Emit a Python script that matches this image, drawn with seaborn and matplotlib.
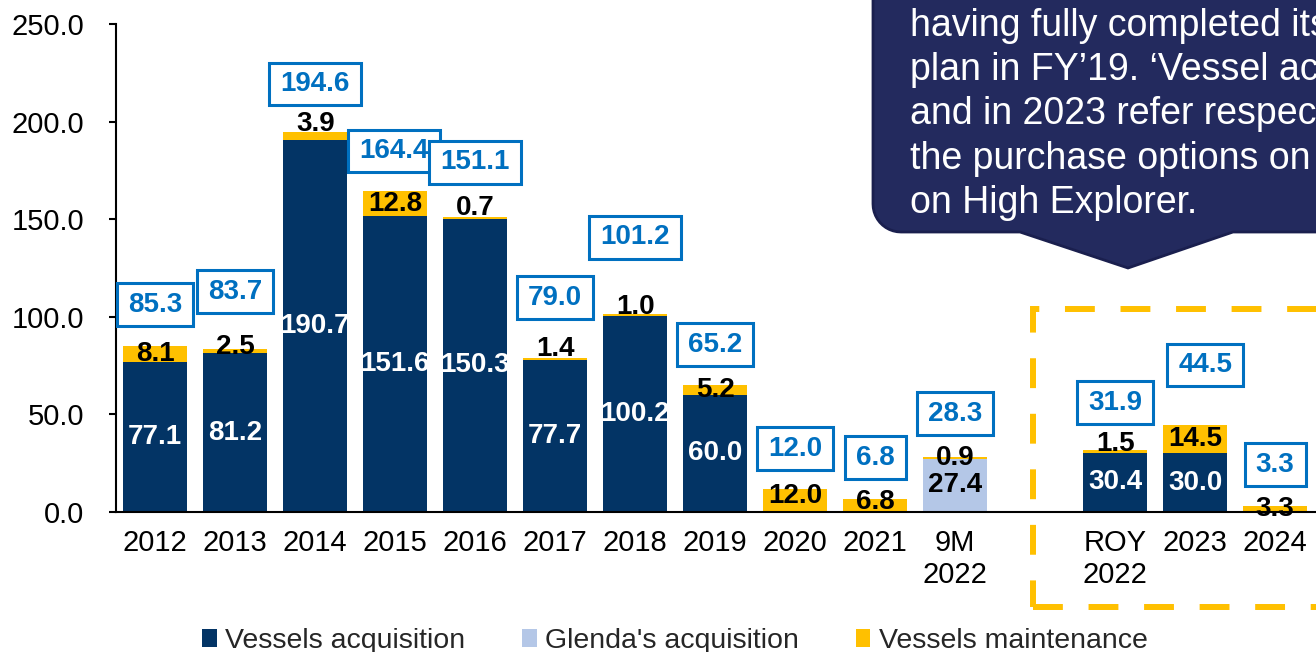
import numpy as np
import pandas as pd
import matplotlib
matplotlib.use("Agg")
import matplotlib.pyplot as plt
import seaborn as sns
from matplotlib.path import Path
from matplotlib.patches import PathPatch, Rectangle, Patch

# ---------------- data ----------------
categories = ["2012", "2013", "2014", "2015", "2016", "2017", "2018", "2019",
              "2020", "2021", "9M\n2022", "ROY\n2022", "2023", "2024"]
vessels_acq = [77.1, 81.2, 190.7, 151.6, 150.3, 77.7, 100.2, 60.0,
               0.0, 0.0, 0.0, 30.4, 30.0, 0.0]
glenda_acq = [0, 0, 0, 0, 0, 0, 0, 0, 0, 0, 27.4, 0, 0, 0]
vessels_maint = [8.1, 2.5, 3.9, 12.8, 0.7, 1.4, 1.0, 5.2,
                 12.0, 6.8, 0.9, 1.5, 14.5, 3.3]
totals = [85.3, 83.7, 194.6, 164.4, 151.1, 79.0, 101.2, 65.2,
          12.0, 6.8, 28.3, 31.9, 44.5, 3.3]
y_ticks = [0, 50, 100, 150, 200, 250]
legend_labels = ["Vessels acquisition", "Glenda's acquisition", "Vessels maintenance"]
callout_lines = ["having fully completed its",
                 "plan in FY\u201919. \u2018Vessel ac",
                 "and in 2023 refer respect",
                 "the purchase options on",
                 "on High Explorer."]

# ---------------- layout / style ----------------
W, H = 1316, 652
NAVY = "#033465"
LIGHT = "#B4C7E7"
YELLOW = "#FFC000"
BLUE = "#0070C0"
CALLOUT = "#232A5E"
CALLOUT_EDGE = "#1A1F4E"

# label offsets (pixels) for the maintenance labels and the total boxes
maint_dy = [0, 4, 12, 0, 10, 10, 8, 0, 4, 3, 0, 7, 0, 0]
box_dy = [41, 57, 48, 40, 55, 60, 77, 40, 40, 41, 43, 47, 60, 41]
box_dx = [0, 0, 0, -1, 0, 0, 0, 0, 0, 0, 0, 0, 10, 0]

sns.set_theme(style="white")
plt.rcParams["font.family"] = ["Liberation Sans", "DejaVu Sans"]

fig = plt.figure(figsize=(W / 100, H / 100), dpi=100)
ax = fig.add_axes([116 / W, 1 - 512 / H, 1 - 116 / W, (512 - 24) / H])

df = pd.DataFrame({"cat": categories, "acq": vessels_acq,
                   "glenda": glenda_acq, "maint": vessels_maint})
df["acq_gl"] = df["acq"] + df["glenda"]
df["top"] = df["acq_gl"] + df["maint"]
order = categories[:11] + [" "] + categories[11:]
pos = {c: order.index(c) for c in categories}

for col, color in [("top", YELLOW), ("acq_gl", LIGHT), ("acq", NAVY)]:
    sns.barplot(data=df, x="cat", y=col, order=order, color=color,
                saturation=1, width=0.8, linewidth=0, errorbar=None, ax=ax)

ax.set_xlim(-0.49, 14.51)
ax.set_ylim(0, 250)
ax.set_yticks(y_ticks)
ax.set_yticklabels([f"{v:.1f}" for v in y_ticks])
ax.set_xlabel("")
ax.set_ylabel("")
for s in ["top", "right"]:
    ax.spines[s].set_visible(False)
for s in ["left", "bottom"]:
    ax.spines[s].set_color("black")
    ax.spines[s].set_linewidth(1.5)
ax.tick_params(axis="y", left=True, length=5, width=1.5, direction="out",
               pad=18, labelsize=21, colors="black")
ax.tick_params(axis="x", bottom=False, length=0, pad=12, labelsize=21,
               colors="black")


def label_box(x0, y0, width, height, mutation_size):
    px = 0.40 * mutation_size
    py = 0.30 * mutation_size
    x0 -= px
    y0 -= py
    x1 = x0 + width + 2 * px
    y1 = y0 + height + 2 * py
    return Path([(x0, y0), (x1, y0), (x1, y1), (x0, y1), (x0, y0)], closed=True)


for i, cat in enumerate(categories):
    x = pos[cat]
    a, g, m, t = vessels_acq[i], glenda_acq[i], vessels_maint[i], totals[i]
    if a > 0:
        ax.text(x, a / 2, f"{a:.1f}", ha="center", va="center", color="white",
                fontsize=20, fontweight="bold", zorder=4)
    if g > 0:
        ax.text(x, a + g / 2, f"{g:.1f}", ha="center", va="center", color="black",
                fontsize=20, fontweight="bold", zorder=4)
    if m > 0:
        ax.annotate(f"{m:.1f}", xy=(x, a + g + m / 2), xytext=(0, maint_dy[i]),
                    textcoords="offset pixels", ha="center", va="center",
                    color="black", fontsize=20, fontweight="bold", zorder=4,
                    annotation_clip=False)
    ax.annotate(f"{t:.1f}", xy=(x, a + g + m), xytext=(box_dx[i], box_dy[i]),
                textcoords="offset pixels", ha="center", va="center",
                color=BLUE, fontsize=20, fontweight="bold", zorder=5 + i,
                annotation_clip=False,
                bbox=dict(boxstyle=label_box, fc="white", ec=BLUE, lw=2.2))

# ---------------- callout ----------------
def fx(px):
    return px / W


def fy(py):
    return 1 - py / H


r = 28
arc = [(873 + r - r * np.cos(t), 232 - r + r * np.sin(t))
       for t in np.linspace(0, np.pi / 2, 12)]
pts = [(873, -30)] + arc + [(1020, 232), (1128, 268), (1233, 232),
                            (1360, 232), (1360, -30), (873, -30)]
verts = [(fx(px), fy(py)) for px, py in pts]
callout = PathPatch(Path(verts, closed=True), transform=fig.transFigure,
                    facecolor=CALLOUT, edgecolor=CALLOUT_EDGE, lw=2,
                    clip_on=False, zorder=10)
fig.add_artist(callout)
baselines = [36, 80, 124, 169, 213]
for line, b in zip(callout_lines, baselines):
    fig.text(fx(910), fy(b), line, color="white", fontsize=27, ha="left",
             va="baseline", zorder=11)

# ---------------- dashed highlight ----------------
rect = Rectangle((fx(1033), fy(607)), fx(1420) - fx(1033), fy(309) - fy(607),
                 transform=fig.transFigure, fill=False, ec=YELLOW, lw=4.3,
                 linestyle=(0, (5, 4.3)), clip_on=False, zorder=1)
fig.add_artist(rect)

# ---------------- legend ----------------
handles = [Patch(facecolor=c, edgecolor="none") for c in [NAVY, LIGHT, YELLOW]]
fig.legend(handles, legend_labels, loc="center", bbox_to_anchor=(fx(675), fy(641)),
           ncol=3, frameon=False, fontsize=20.5, handlelength=0.5,
           handleheight=0.55, handletextpad=0.3, columnspacing=2.0,
           borderaxespad=0, borderpad=0)

fig.savefig("out.png", dpi=100)
